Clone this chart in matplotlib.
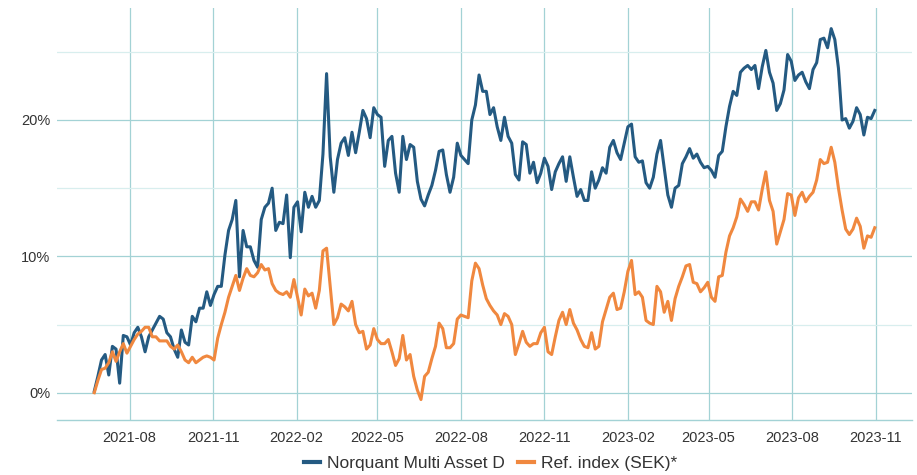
import matplotlib
matplotlib.use("Agg")
import matplotlib.pyplot as plt
import matplotlib.dates as mdates
from matplotlib.ticker import FuncFormatter, MultipleLocator
import pandas as pd

start_date = "2021-06-23"
step = "4D"

norquant = [
    0.1, 1.2, 2.4, 2.8, 1.3, 3.4, 3.2, 0.7, 4.2, 4.1,
    3.5, 4.4, 4.8, 4.1, 3.0, 4.1, 4.6, 5.1, 5.6, 5.4,
    4.4, 4.1, 3.2, 2.6, 4.6, 3.7, 3.5, 5.6, 5.2, 6.2,
    6.2, 7.4, 6.4, 7.2, 7.8, 7.8, 10.1, 11.9, 12.7, 14.1,
    8.5, 11.9, 10.7, 10.7, 9.7, 9.2, 12.7, 13.6, 13.9, 15.0,
    11.9, 12.5, 12.4, 14.5, 9.9, 13.6, 14.0, 11.8, 14.7, 13.6,
    14.4, 13.6, 14.1, 17.5, 23.4, 17.3, 14.7, 17.1, 18.3, 18.7,
    17.4, 19.1, 17.6, 19.1, 20.7, 20.1, 18.7, 20.9, 20.4, 20.2,
    16.6, 18.5, 18.8, 16.1, 14.7, 18.8, 17.1, 18.2, 18.0, 15.5,
    14.2, 13.7, 14.5, 15.2, 16.3, 17.7, 17.8, 16.0, 14.7, 15.8,
    18.3, 17.4, 17.1, 16.8, 20.0, 21.1, 23.3, 22.1, 22.1, 20.4,
    20.9, 19.5, 18.5, 20.2, 18.8, 18.3, 16.0, 15.6, 18.4, 18.2,
    16.1, 16.9, 15.4, 16.1, 17.2, 16.6, 14.9, 16.2, 16.8, 17.3,
    15.5, 17.3, 15.8, 14.4, 14.9, 14.1, 14.1, 16.2, 15.0, 15.6,
    16.5, 16.1, 18.0, 18.5, 17.6, 17.1, 18.3, 19.5, 19.7, 17.3,
    16.9, 17.0, 15.4, 15.0, 15.8, 17.5, 18.5, 16.5, 14.5, 13.6,
    15.0, 15.2, 16.8, 17.3, 17.9, 17.2, 17.5, 16.9, 16.5, 16.6,
    16.3, 15.8, 17.4, 17.7, 19.5, 21.0, 22.1, 21.8, 23.5, 23.8,
    24.0, 23.7, 24.0, 22.3, 23.9, 25.1, 23.5, 22.7, 20.7, 21.2,
    22.2, 24.8, 24.3, 22.9, 23.3, 23.5, 22.8, 22.3, 23.7, 24.2,
    25.9, 26.0, 25.3, 26.7, 25.9, 23.8, 20.0, 20.1, 19.4, 19.9,
    20.9, 20.4, 18.9, 20.2, 20.1, 20.7,
]

ref_index = [
    0.0, 0.9, 1.7, 1.8, 2.2, 3.0, 2.3, 3.0, 3.6, 2.9,
    3.4, 3.9, 4.3, 4.5, 4.8, 4.8, 4.1, 4.1, 3.8, 3.8,
    3.8, 3.4, 3.2, 3.5, 3.0, 2.4, 2.2, 2.6, 2.2, 2.4,
    2.6, 2.7, 2.6, 2.4, 4.0, 5.0, 5.9, 7.0, 7.8, 8.6,
    7.5, 8.4, 9.1, 8.6, 8.5, 8.8, 9.4, 9.0, 9.1, 8.0,
    7.5, 7.3, 7.2, 7.4, 7.0, 8.3, 7.0, 5.7, 7.6, 7.1,
    7.3, 6.2, 7.5, 10.4, 10.6, 7.8, 5.0, 5.5, 6.5, 6.3,
    6.0, 6.7, 5.0, 4.4, 4.5, 3.2, 3.5, 4.7, 3.9, 3.6,
    3.6, 3.9, 3.0, 2.0, 2.5, 4.2, 2.4, 2.8, 1.2, 0.2,
    -0.5, 1.2, 1.5, 2.5, 3.4, 5.1, 4.7, 3.3, 3.3, 3.6,
    5.4, 5.7, 5.6, 5.5, 8.2, 9.5, 9.1, 7.9, 6.9, 6.4,
    6.0, 5.7, 5.0, 5.8, 5.6, 5.0, 2.8, 3.6, 4.5, 3.7,
    3.4, 3.6, 3.6, 4.4, 4.8, 3.0, 2.8, 4.1, 5.3, 5.9,
    5.0, 6.1, 5.1, 4.6, 3.9, 3.4, 3.3, 4.4, 3.2, 3.4,
    5.2, 6.1, 7.0, 7.3, 6.1, 6.2, 7.4, 8.9, 9.7, 7.2,
    7.4, 7.0, 5.3, 5.1, 5.0, 7.8, 7.4, 5.9, 6.7, 5.3,
    6.9, 7.8, 8.5, 9.3, 9.4, 8.1, 8.0, 7.4, 7.7, 8.1,
    7.0, 6.7, 8.5, 8.6, 10.3, 11.5, 12.1, 12.9, 14.2, 13.8,
    13.3, 14.0, 14.0, 13.4, 14.9, 16.2, 14.1, 13.3, 10.9, 11.8,
    12.7, 14.6, 14.5, 13.0, 14.3, 14.7, 14.0, 14.4, 14.7, 15.6,
    17.1, 16.8, 16.9, 18.0, 16.9, 15.0, 13.4, 12.0, 11.6, 12.0,
    12.8, 12.2, 10.6, 11.5, 11.4, 12.1,
]

series_names = ["Norquant Multi Asset D", "Ref. index (SEK)*"]
series_colors = ["#245a82", "#f0883f"]

dates = pd.date_range(start_date, periods=len(norquant), freq=step)

plt.rcParams["font.family"] = ["Liberation Sans", "DejaVu Sans"]

fig = plt.figure(figsize=(9.17, 4.75), dpi=100)
ax = fig.add_axes([0.0622, 0.1158, 0.9323, 0.867])

grid_major = "#a3d2d5"
grid_minor = "#d8eeee"

ax.plot(dates, norquant, color=series_colors[0], lw=2.2, label=series_names[0],
        solid_joinstyle="round", zorder=3)
ax.plot(dates, ref_index, color=series_colors[1], lw=2.2, label=series_names[1],
        solid_joinstyle="round", zorder=3)

ax.set_ylim(-2.0, 28.2)
ax.set_xlim(pd.Timestamp("2021-05-13"), pd.Timestamp("2023-12-11"))

ax.yaxis.set_major_locator(MultipleLocator(10))
ax.yaxis.set_minor_locator(MultipleLocator(5))
ax.yaxis.set_major_formatter(FuncFormatter(lambda v, p: f"{v:.0f}%"))
ax.xaxis.set_major_locator(mdates.MonthLocator(bymonth=[2, 5, 8, 11]))
ax.xaxis.set_major_formatter(mdates.DateFormatter("%Y-%m"))

ax.grid(True, which="major", axis="both", color=grid_major, lw=0.9)
ax.grid(True, which="minor", axis="y", color=grid_minor, lw=0.9)
ax.set_axisbelow(True)

for s in ["top", "right", "left"]:
    ax.spines[s].set_visible(False)
ax.spines["bottom"].set_color(grid_major)
ax.spines["bottom"].set_linewidth(1.0)

ax.tick_params(axis="both", which="both", length=0, labelsize=10.5, colors="#333333")
ax.tick_params(axis="x", pad=8)
ax.tick_params(axis="y", pad=5)

leg = fig.legend(loc="center", bbox_to_anchor=(0.535, 0.025), ncol=2, frameon=False,
                 fontsize=12.5, handlelength=0.9, handletextpad=0.4, columnspacing=0.8)
for h in leg.get_lines():
    h.set_linewidth(3.0)
for t in leg.get_texts():
    t.set_color("#333333")

fig.savefig("out.png", dpi=100)
